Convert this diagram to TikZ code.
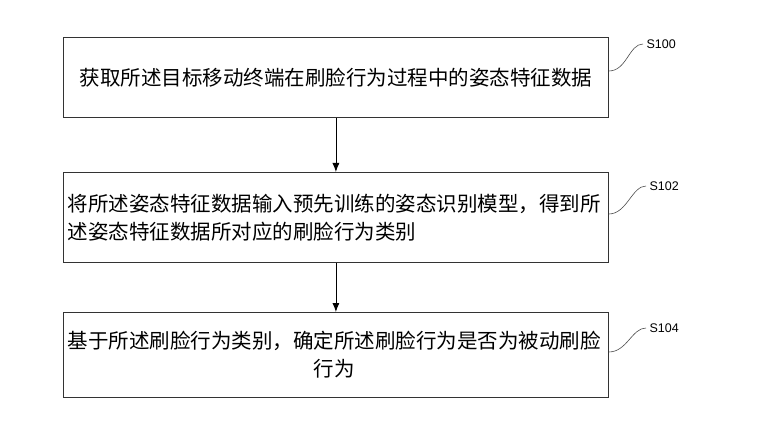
\documentclass[tikz,border=0pt]{standalone}
\usepackage{fontspec}
\newfontfamily\cjk{Noto Sans CJK SC}
\begin{document}
\begin{tikzpicture}[x=1pt,y=-1pt,
  box/.style={draw=black!80,line width=0.8pt,minimum width=545pt,anchor=north west,inner sep=0pt},
  txt/.style={font=\cjk\fontsize{20.5}{28}\selectfont,align=left,anchor=west},
  lab/.style={font=\fontspec{Liberation Sans}\fontsize{12.5}{14}\selectfont,anchor=west},
  arr/.style={-{Latex[length=9pt,width=7pt]},line width=0.8pt},
  cur/.style={line width=0.6pt,black!70}]
\usetikzlibrary{arrows.meta}
\useasboundingbox (0,0) rectangle (759,438);
\node[box,minimum height=80pt] (b1) at (63,37) {};
\node[box,minimum height=90pt] (b2) at (63,172) {};
\node[box,minimum height=85pt] (b3) at (63,312) {};
\node[font=\cjk\fontsize{20.5}{28}\selectfont] (t1) at (b1.center) {获取所述目标移动终端在刷脸行为过程中的姿态特征数据};
\node[txt] (t2) at ([xshift=1pt]b2.west) {将所述姿态特征数据输入预先训练的姿态识别模型，得到所\\述姿态特征数据所对应的刷脸行为类别};
\node[txt] (t3) at ([xshift=1pt]b3.west) {基于所述刷脸行为类别，确定所述刷脸行为是否为被动刷脸\\\hspace*{12em}行为};
\draw[arr] (b1.south) -- (b2.north);
\draw[arr] (b2.south) -- (b3.north);
\node[lab] (s1) at (643,44) {S100};
\node[lab] (s2) at (646,186) {S102};
\node[lab] (s3) at (646,328) {S104};
\draw[cur] (b1.north east) ++(0,34) .. controls +(18,0) and +(-14,0) .. (s1.west);
\draw[cur] (b2.north east) ++(0,42) .. controls +(18,0) and +(-14,0) .. (s2.west);
\draw[cur] (b3.north east) ++(0,40) .. controls +(18,0) and +(-14,0) .. (s3.west);
\end{tikzpicture}
\end{document}
